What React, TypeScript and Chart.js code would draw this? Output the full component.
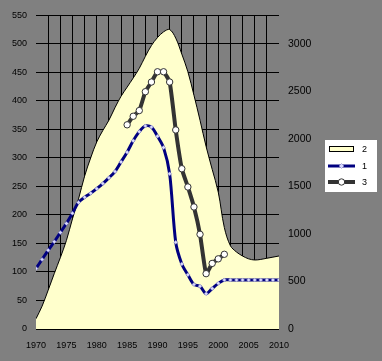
import React, { useEffect, useRef } from "react";
import { Chart, registerables } from "chart.js";

Chart.register(...registerables);

const FONT = '"Liberation Sans", Arial, sans-serif';

const yearsAll = [
  1970, 1971, 1972, 1973, 1974, 1975, 1976, 1977, 1978, 1979,
  1980, 1981, 1982, 1983, 1984, 1985, 1986, 1987, 1988, 1989,
  1990, 1991, 1992, 1993, 1994, 1995, 1996, 1997, 1998, 1999,
  2000, 2001, 2002, 2003, 2004, 2005, 2006, 2007, 2008, 2009, 2010,
];

// Series "2" (area)
const series2 = [
  18, 40, 68, 97, 125, 155, 193, 228, 268, 300,
  328, 348, 366, 388, 408, 424, 440, 457, 478, 497,
  511, 521, 525, 510, 482, 451, 410, 366, 320, 280,
  240, 178, 146, 135, 128, 123, 121, 122, 124, 126, 128,
];

// Series "1" (navy line with diamonds)
const series1 = [
  106, 122, 138, 153, 169, 185, 203, 222, 231, 238,
  246, 255, 265, 276, 293, 310, 330, 346, 356, 354,
  338, 318, 272, 152, 114, 95, 78, 75, 62, 71,
  80, 86, 86, 86, 86, 86, 86, 86, 86, 86, 86,
];

// Series "3" (dark line with circles)
const years3 = [
  1985, 1986, 1987, 1988, 1989, 1990, 1991, 1992, 1993,
  1994, 1995, 1996, 1997, 1998, 1999, 2000, 2001,
];
const series3 = [
  358, 373, 383, 416, 433, 451, 451, 433, 349,
  281, 249, 214, 166, 97, 115, 123, 131,
];

const xLabelYears = [1970, 1975, 1980, 1985, 1990, 1995, 2000, 2005, 2010];
const rightTicks = [0, 500, 1000, 1500, 2000, 2500, 3000];

const legendPlugin = {
  id: "customLegend",
  afterDraw(chart: any) {
    const ctx = chart.ctx;
    const ds = chart.data.datasets;
    const bx = chart.chartArea.right + 46;
    const by = 140;
    ctx.save();
    ctx.fillStyle = "#ffffff";
    ctx.fillRect(bx, by, 52, 52);
    const rows = [9, 26, 42];
    ds.forEach((d: any, i: number) => {
      const cy = by + rows[i];
      if (i === 0) {
        ctx.fillStyle = d.backgroundColor;
        ctx.fillRect(bx + 4.5, cy - 2.5, 24, 5);
        ctx.strokeStyle = "#000000";
        ctx.lineWidth = 1;
        ctx.strokeRect(bx + 4.5, cy - 2.5, 24, 5);
      } else {
        ctx.strokeStyle = d.borderColor;
        ctx.lineWidth = d.borderWidth;
        ctx.beginPath();
        ctx.moveTo(bx + 3, cy);
        ctx.lineTo(bx + 30, cy);
        ctx.stroke();
        ctx.fillStyle = d.pointBackgroundColor;
        ctx.strokeStyle = d.pointBorderColor;
        ctx.lineWidth = d.pointBorderWidth;
        const mx = bx + 16.5;
        ctx.beginPath();
        if (d.pointStyle === "rectRot") {
          const r = d.pointRadius + 0.5;
          ctx.moveTo(mx, cy - r);
          ctx.lineTo(mx + r, cy);
          ctx.lineTo(mx, cy + r);
          ctx.lineTo(mx - r, cy);
          ctx.closePath();
        } else {
          ctx.arc(mx, cy, d.pointRadius, 0, Math.PI * 2);
        }
        ctx.fill();
        ctx.stroke();
      }
      ctx.fillStyle = "#000000";
      ctx.font = "9px " + FONT;
      ctx.textBaseline = "middle";
      ctx.textAlign = "left";
      ctx.fillText(d.label, bx + 37, cy + 0.5);
    });
    ctx.restore();
  },
};

export default function App() {
  const ref = useRef<HTMLCanvasElement | null>(null);

  useEffect(() => {
    if (!ref.current) return;
    const chart = new Chart(ref.current, {
      type: "line",
      data: {
        datasets: [
          {
            label: "2",
            data: yearsAll.map((x, i) => ({ x, y: series2[i] })),
            backgroundColor: "#FFFFCC",
            borderColor: "#000000",
            borderWidth: 1,
            fill: "origin",
            pointRadius: 0,
            tension: 0.35,
            order: 3,
          } as any,
          {
            label: "1",
            data: yearsAll.map((x, i) => ({ x, y: series1[i] })),
            borderColor: "#000080",
            borderWidth: 3,
            fill: false,
            pointStyle: "rectRot",
            pointRadius: 2,
            pointBackgroundColor: "#d8d8ff",
            pointBorderColor: "#8080c0",
            pointBorderWidth: 0.5,
            tension: 0.3,
            order: 2,
          } as any,
          {
            label: "3",
            data: years3.map((x, i) => ({ x, y: series3[i] })),
            borderColor: "#333333",
            borderWidth: 4,
            fill: false,
            pointStyle: "circle",
            pointRadius: 3.2,
            pointBackgroundColor: "#ffffff",
            pointBorderColor: "#333333",
            pointBorderWidth: 1,
            tension: 0.15,
            order: 1,
          } as any,
        ],
      },
      options: {
        responsive: false,
        animation: false,
        devicePixelRatio: 1,
        layout: { padding: { top: 15, left: 0, right: 0, bottom: 0 } },
        plugins: { legend: { display: false }, tooltip: { enabled: false } },
        scales: {
          x: {
            type: "linear",
            min: 1970,
            max: 2010,
            border: { display: false },
            grid: {
              drawTicks: false,
              lineWidth: 1,
              color: (c: any) => {
                const v = c.tick ? c.tick.value : 0;
                return v % 2 === 0 && v !== 1970 && v !== 2010 ? "#000000" : "rgba(0,0,0,0)";
              },
            },
            ticks: {
              stepSize: 1,
              autoSkip: false,
              maxRotation: 0,
              padding: 11,
              color: "#000000",
              font: { family: FONT, size: 9 },
              callback: (v: any) => (xLabelYears.includes(Number(v)) ? String(v) : ""),
            },
            afterFit: (s: any) => {
              s.height = 32;
            },
          },
          y: {
            position: "left",
            min: 0,
            max: 550,
            border: { display: false },
            grid: { drawTicks: false, color: "#000000", lineWidth: 1 },
            ticks: {
              stepSize: 50,
              padding: 9,
              color: "#000000",
              font: { family: FONT, size: 9 },
              callback: (v: any) => String(v),
            },
            afterFit: (s: any) => {
              s.width = 36;
            },
          },
          y2: {
            type: "linear",
            position: "right",
            min: 0,
            max: 3300,
            border: { display: false },
            grid: { display: false, drawTicks: false },
            ticks: {
              stepSize: 500,
              includeBounds: false,
              padding: 9,
              color: "#000000",
              font: { family: FONT, size: 10.5 },
              callback: (v: any) => String(v),
            },
            afterBuildTicks: (s: any) => {
              s.ticks = rightTicks.map((v) => ({ value: v }));
            },
            afterFit: (s: any) => {
              s.width = 103;
            },
          },
        },
      } as any,
      plugins: [legendPlugin],
    });
    return () => chart.destroy();
  }, []);

  return (
    <div
      style={{
        position: "fixed",
        left: 0,
        top: 0,
        width: 382,
        height: 361,
        background: "#808080",
      }}
    >
      <canvas ref={ref} width={382} height={361} style={{ display: "block" }} />
    </div>
  );
}
